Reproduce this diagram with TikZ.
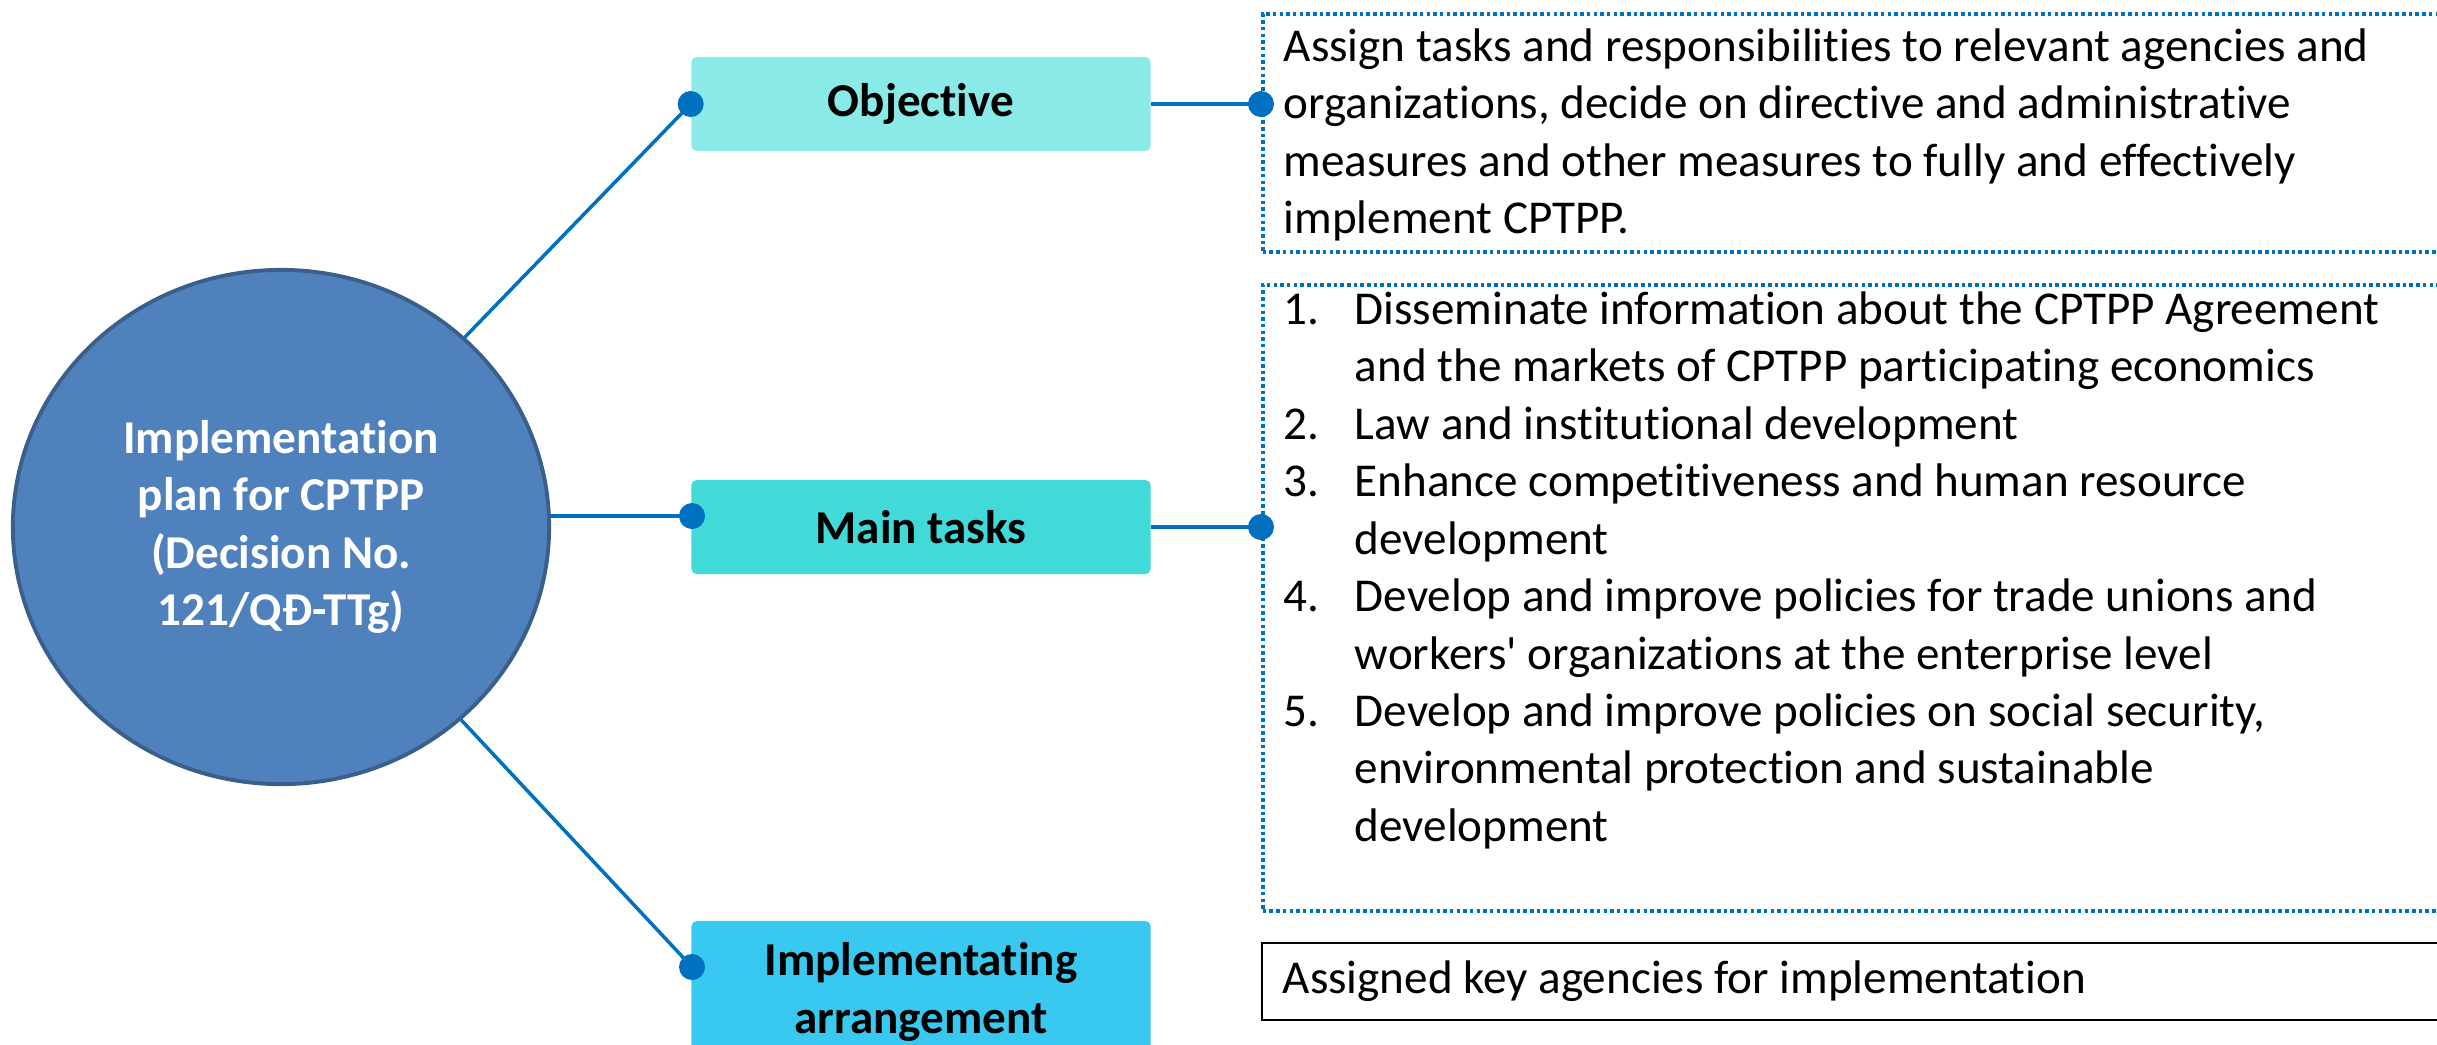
\documentclass[tikz,border=0pt]{standalone}
\usepackage{fontspec}
\setmainfont{Carlito}[Ligatures={TeXOff,NoCommon}]
\usetikzlibrary{shapes.geometric}

\definecolor{hubfill}{HTML}{4F81BD}
\definecolor{hubedge}{HTML}{3A5F8B}
\definecolor{lineblue}{HTML}{0070C0}
\definecolor{objfill}{HTML}{8AEAE7}
\definecolor{taskfill}{HTML}{41DAD8}
\definecolor{arrfill}{HTML}{39C9F0}

\newcommand{\numlab}[1]{\makebox[0.71cm][l]{#1}}

\tikzset{
  hub/.style={ellipse, draw=hubedge, fill=hubfill, line width=1.1pt, minimum width=5.36cm, minimum height=5.14cm, inner sep=0pt, text=white, font=\bfseries, align=center},
  topic/.style={rectangle, rounded corners=1.5pt, minimum width=4.59cm, minimum height=0.94cm, inner sep=0pt, font=\bfseries, align=center},
  infobox/.style={rectangle, draw=lineblue, line width=1pt, dash pattern=on 1pt off 0.9pt, anchor=north west, minimum width=12.1cm},
  plainbox/.style={rectangle, draw=black, line width=0.6pt, anchor=north west, minimum width=12.1cm, minimum height=0.77cm},
  desc/.style={anchor=north west, align=left, inner sep=0pt},
  link/.style={draw=lineblue, line width=1pt}
}

\begin{document}
\fontsize{13.4}{16.33}\selectfont
\begin{tikzpicture}[x=0.01cm, y=-0.01cm]

\useasboundingbox (0,0) rectangle (2437,1044);
\clip (0,0) rectangle (2437,1044);

% centre
\node[hub] (plan) at (281,527) {Implementation\\plan for CPTPP\\(Decision No.\\121/QĐ-TTg)};

% headings
\node[topic, fill=objfill] (obj) at (921,104) {Objective};
\node[topic, fill=taskfill] (mtask) at (921,527) {Main tasks};
\node[topic, fill=arrfill, minimum height=1.42cm] (impl) at (921,992) {Implementating\\arrangement};

% contents
\node[infobox, minimum height=2.38cm] (objbox) at (1261,12) {};
\node[desc] (objtext) at ([xshift=0.22cm, yshift=-0.16cm]objbox.north west) {Assign tasks and responsibilities to relevant agencies and\\organizations, decide on directive and administrative\\measures and other measures to fully and effectively\\implement CPTPP.};

\node[infobox, minimum height=6.26cm] (taskbox) at (1261,283) {};
\node[desc] (tasktext) at ([xshift=0.22cm, yshift=-0.08cm]taskbox.north west) {\numlab{1.}Disseminate information about the CPTPP Agreement\\
\numlab{}and the markets of CPTPP participating economics\\
\numlab{2.}Law and institutional development\\
\numlab{3.}Enhance competitiveness and human resource\\
\numlab{}development\\
\numlab{4.}Develop and improve policies for trade unions and\\
\numlab{}workers' organizations at the enterprise level\\
\numlab{5.}Develop and improve policies on social security,\\
\numlab{}environmental protection and sustainable\\
\numlab{}development};

\node[plainbox] (arrbox) at (1261,942) {};
\node[desc, anchor=west] (arrtext) at ([xshift=0.21cm]arrbox.west) {Assigned key agencies for implementation};

% joints
\coordinate (objin) at (obj.west);
\coordinate (taskin) at (692,516);
\coordinate (arrin) at (692,967);
\coordinate (objout) at (objbox.west |- obj.east);
\coordinate (taskout) at (taskbox.west |- mtask.east);

\draw[link] (plan) -- (objin);
\draw[link] (plan.east |- taskin) -- (taskin);
\draw[link] (plan) -- (arrin);
\draw[link] (obj.east) -- (objout);
\draw[link] (mtask.east) -- (taskout);

\foreach \p in {objin,taskin,arrin,objout,taskout}
  \fill[lineblue] (\p) circle (0.13cm);

\end{tikzpicture}
\end{document}
